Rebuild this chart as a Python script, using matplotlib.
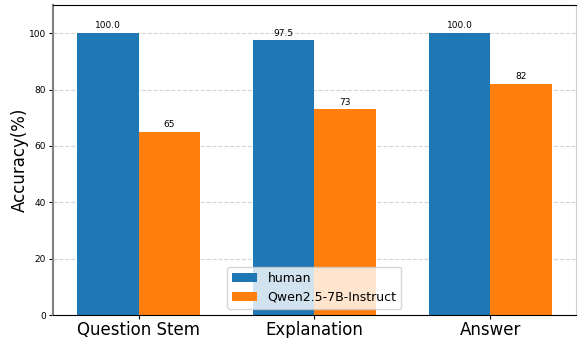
import matplotlib
matplotlib.use("Agg")
import matplotlib.pyplot as plt
import numpy as np

categories = ["Question Stem", "Explanation", "Answer"]
human = [100.0, 97.5, 100.0]
qwen = [65, 73, 82]
human_labels = ["100.0", "97.5", "100.0"]
qwen_labels = ["65", "73", "82"]

fig = plt.figure(figsize=(5.78, 3.38), dpi=100)
ax = fig.add_axes([0.092, 0.068, 0.904, 0.917])
x = np.arange(len(categories))
w = 0.35
b1 = ax.bar(x - w/2, human, w, color="#1f77b4", label="human", zorder=2)
b2 = ax.bar(x + w/2, qwen, w, color="#ff7f0e", label="Qwen2.5-7B-Instruct", zorder=2)
ax.bar_label(b1, labels=human_labels, fontsize=6.5, padding=2)
ax.bar_label(b2, labels=qwen_labels, fontsize=6.5, padding=2)
ax.set_ylim(0, 110)
ax.set_yticks([0, 20, 40, 60, 80, 100])
ax.set_xticks(x)
ax.set_xticklabels(categories, fontsize=12)
ax.tick_params(axis="x", pad=1, length=3)
ax.tick_params(axis="y", labelsize=6.5, length=3, pad=2)
ax.set_ylabel("Accuracy(%)", fontsize=12, labelpad=0)
ax.yaxis.grid(True, linestyle="--", color="#d5d5d5", linewidth=0.8, zorder=0)
ax.set_axisbelow(True)
ax.spines["left"].set_color("#808080")
ax.spines["left"].set_linewidth(1.5)
ax.spines["right"].set_color("#d0d0d0")
ax.legend(loc="lower center", fontsize=9, framealpha=0.8)
fig.savefig("out.png", dpi=100)
